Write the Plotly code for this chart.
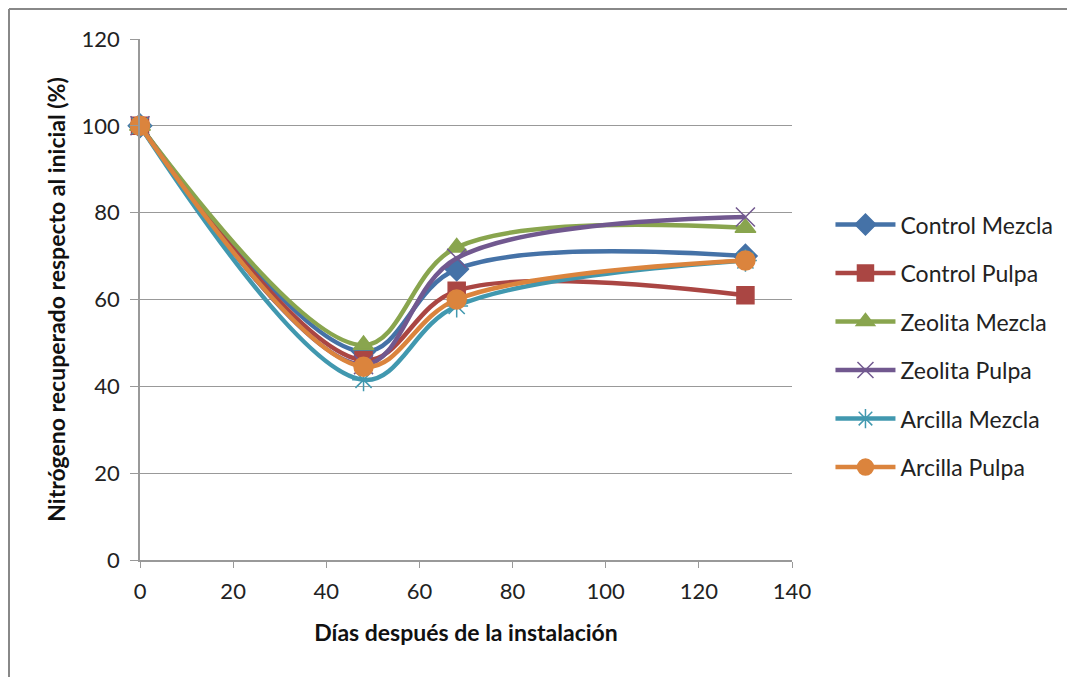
import plotly.graph_objects as go

days = [0, 48, 68, 130]
series_names = ["Control Mezcla", "Control Pulpa", "Zeolita Mezcla",
                "Zeolita Pulpa", "Arcilla Mezcla", "Arcilla Pulpa"]
control_mezcla = [100, 48, 67, 70]
control_pulpa = [100, 46, 62, 61]
zeolita_mezcla = [100, 49.5, 72, 76.5]
zeolita_pulpa = [100, 45, 69.5, 79]
arcilla_mezcla = [100, 41.5, 58.5, 69]
arcilla_pulpa = [100, 44.5, 60, 69]
x_ticks = [0, 20, 40, 60, 80, 100, 120, 140]
y_ticks = [0, 20, 40, 60, 80, 100, 120]

values = [control_mezcla, control_pulpa, zeolita_mezcla, zeolita_pulpa,
          arcilla_mezcla, arcilla_pulpa]
colors = ["#4572A7", "#AA4643", "#89A54E", "#71588F", "#4198AF", "#DB843D"]
symbols = ["diamond", "square", "triangle-up", "x-thin-open", "asterisk-open", "circle"]
msizes = [18, 17, 18, 19, 19, 19]

FONT = "Lato"
fig = go.Figure()
for i, (name, vals) in enumerate(zip(series_names, values)):
    fig.add_trace(go.Scatter(
        x=days, y=vals, name=name, mode="lines+markers",
        line=dict(color=colors[i], width=4.5, shape="spline", smoothing=1.0),
        marker=dict(symbol=symbols[i], size=msizes[i], color=colors[i],
                    line=dict(color=colors[i], width=1.5)),
        legendgroup=name, cliponaxis=False,
    ))

L, T, PW, PH = 132, 31, 652, 521
fig.update_layout(
    width=1075, height=677,
    paper_bgcolor="white", plot_bgcolor="white",
    margin=dict(l=L, r=1075 - L - PW, t=T, b=677 - T - PH),
    font=dict(family=FONT, size=22, color="#222"),
    showlegend=True,
    legend=dict(x=1.059, y=0.685, xanchor="left", yanchor="top",
                font=dict(family=FONT, size=23, color="#222"),
                tracegroupgap=15.6, itemwidth=60, bgcolor="rgba(0,0,0,0)"),
    xaxis=dict(range=[0, 140], tickvals=x_ticks, ticks="outside", ticklen=6,
               tickcolor="#999", showline=True, linecolor="#999", linewidth=1.5,
               showgrid=False, zeroline=False, tickfont=dict(size=22, color="#222"),
               ticklabelstandoff=5,
               title=dict(text="<b>Días después de la instalación</b>",
                          font=dict(size=23, color="#111"), standoff=22)),
    yaxis=dict(range=[0, 120], tickvals=y_ticks, ticks="outside", ticklen=8,
               tickcolor="#999", showline=True, linecolor="#999", linewidth=1.5,
               showgrid=True, gridcolor="#999", gridwidth=1, zeroline=False,
               tickfont=dict(size=22, color="#222"), ticklabelstandoff=6,
               title=dict(text="<b>Nitrógeno recuperado respecto al inicial (%)</b>",
                          font=dict(size=23, color="#111"), standoff=10)),
)

# outer chart frame (left and top edges visible)
fx = (1 - L) / PW
fy = 1 + (T - 1) / PH
fig.add_shape(type="line", xref="paper", yref="paper", x0=fx, x1=fx,
              y0=-0.5, y1=fy, line=dict(color="#888", width=2))
fig.add_shape(type="line", xref="paper", yref="paper", x0=fx, x1=1.8,
              y0=fy, y1=fy, line=dict(color="#888", width=2))

fig.write_html("out.html")
